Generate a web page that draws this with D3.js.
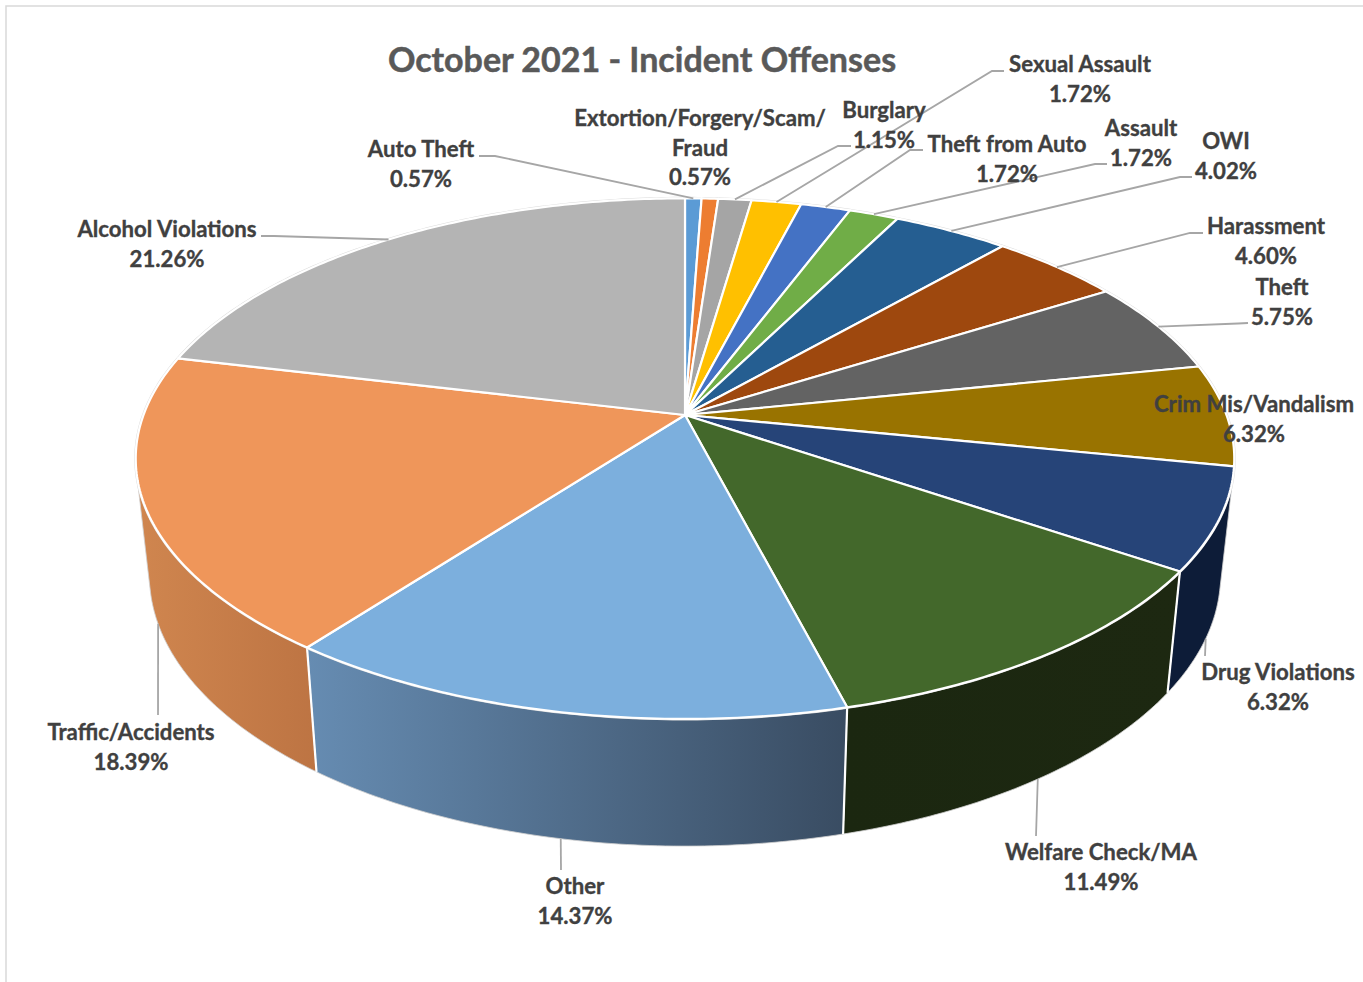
<!DOCTYPE html>
<html>
<head>
<meta charset="utf-8">
<script src="https://d3js.org/d3.v7.min.js"></script>
<style>
html, body { margin: 0; padding: 0; background: #fff; }
svg { display: block; }
text { font-family: Lato, "Open Sans", sans-serif; font-weight: 700; text-anchor: middle; }
</style>
</head>
<body>
<div id="canvas"></div>
<script>
// chart data, clockwise from 12 o'clock
var categories = ["Auto Theft", "Extortion/Forgery/Scam/|Fraud", "Burglary", "Sexual Assault", "Theft from Auto",
	"Assault", "OWI", "Harassment", "Theft", "Crim Mis/Vandalism", "Drug Violations", "Welfare Check/MA",
	"Other", "Traffic/Accidents", "Alcohol Violations"];
var values = [0.57, 0.57, 1.15, 1.72, 1.72, 1.72, 4.02, 4.60, 5.75, 6.32, 6.32, 11.49, 14.37, 18.39, 21.26];

// colours
var topColors = ["#5b9bd5", "#ed7d31", "#a5a5a5", "#ffc000", "#4472c4", "#70ad47", "#255e91", "#9e480e",
	"#636363", "#997300", "#264478", "#43682b", "#7cafdd", "#ef965a", "#b4b4b4"];
var wallLeft = {10: "#0d1c38", 11: "#1b2710", 12: "#668cb2", 13: "#d0864f"};
var wallRight = {10: "#0d1c38", 11: "#1d2811", 12: "#394c62", 13: "#bd7443"};

// label centres (layout only), and leader elbows; a leader ends on the slice's rim
var labelX = [421, 700, 884, 1080, 1007, 1141, 1226, 1266, 1282, 1254, 1278, 1101, 575, 131, 167];
var labelY = [149, 118, 110, 64, 144, 128, 141, 226, 287, 404, 672, 852, 886, 732, 229];
var leaderStart = {
	0: [[479, 156], [495, 156]],
	2: [[851, 146], [838, 146]],
	3: [[1004, 71], [992, 71]],
	4: [[923, 150], [910, 150]],
	5: [[1107, 164], [1095, 164]],
	6: [[1192, 177], [1180, 177]],
	7: [[1203, 233], [1190, 233]],
	8: [[1248, 323], [1238, 323.5]],
	10: [[1205, 656]],
	11: [[1036, 836]],
	12: [[561, 870]],
	13: [[158, 715]],
	14: [[261, 236], [274, 236]]
};
var leaderOnBottom = [10, 11, 12, 13];

var width = 1363, height = 982;
var cx = 685, cy = 415;
// perspective of the pie plane
var k = 0.1676, scaleX = 541.5, scaleY = 253;

function project(a) {
	var u = Math.sin(a), v = -Math.cos(a), w = 1 - k * v;
	return [cx + scaleX * u / w, cy + scaleY * v / w];
}
// same rim point, on the lower face of the disc
function lower(p) {
	return [cx + (p[0] - cx) * 0.975, cy + 115 + (p[1] - cy) * 1.04];
}

var svg = d3.select("#canvas").append("svg").attr("width", width).attr("height", height);
var defs = svg.append("defs");
var line = d3.line();

// chart frame
svg.append("path").attr("d", "M6,982V6H1363").attr("fill", "none").attr("stroke", "#d9d9d9").attr("stroke-width", 1.5);

var arcs = d3.pie().sort(null).value(function(d) { return d; })(values);

function rimPoints(d) {
	var n = Math.max(4, Math.ceil((d.endAngle - d.startAngle) * 80));
	return d3.range(n + 1).map(function(i) {
		return project(d.startAngle + (d.endAngle - d.startAngle) * i / n);
	});
}

// side walls first, the top face covers what is behind it
arcs.forEach(function(d, i) {
	if (!wallLeft[i]) return;
	var rim = rimPoints(d);
	var low = rim.map(lower);
	// hull takes in the silhouette edge at the far left and right
	var all = d3.polygonHull(rim.concat(low));
	var xs = d3.extent(all, function(p) { return p[0]; });
	var grad = defs.append("linearGradient").attr("id", "wall" + i)
		.attr("gradientUnits", "userSpaceOnUse")
		.attr("x1", xs[0]).attr("x2", xs[1]).attr("y1", 0).attr("y2", 0);
	grad.append("stop").attr("offset", 0).attr("stop-color", wallLeft[i]);
	grad.append("stop").attr("offset", 1).attr("stop-color", wallRight[i]);
	svg.append("path").attr("d", line(all) + "Z")
		.attr("fill", "url(#wall" + i + ")")
		.attr("stroke", "#cfcfcf")
		.attr("stroke-width", 0.8);
});
// white edges between walls
arcs.forEach(function(d, i) {
	if (!wallLeft[i] || i == 10) return;
	var p = project(d.startAngle);
	svg.append("path").attr("d", line([p, lower(p)]))
		.attr("stroke", "#fff").attr("stroke-width", 2.2).attr("fill", "none");
});

// hairline round the top face
arcs.forEach(function(d) {
	svg.append("path").attr("d", line(rimPoints(d)))
		.attr("fill", "none").attr("stroke", "#dcdcdc").attr("stroke-width", 3);
});

// top face
arcs.forEach(function(d, i) {
	svg.append("path")
		.attr("d", line([[cx, cy]].concat(rimPoints(d))) + "Z")
		.attr("fill", topColors[i])
		.attr("stroke", "#fff")
		.attr("stroke-width", 2.2)
		.attr("stroke-linejoin", "round");
});

// leader lines
arcs.forEach(function(d, i) {
	if (!leaderStart[i]) return;
	var end = project((d.startAngle + d.endAngle) / 2);
	if (leaderOnBottom.indexOf(i) >= 0) end = lower(end);
	svg.append("path").attr("d", line(leaderStart[i].concat([end])))
		.attr("fill", "none").attr("stroke", "#a6a6a6").attr("stroke-width", 1.8);
});

// title
svg.append("text").attr("x", 642).attr("y", 72).attr("font-size", 34).attr("fill", "#595959")
	.attr("stroke", "#595959").attr("stroke-width", 0.5)
	.text("October 2021 - Incident Offenses");

// data labels
categories.forEach(function(name, i) {
	var rows = name.split("|").concat([values[i].toFixed(2) + "%"]);
	var t = svg.append("text").attr("font-size", 22.2).attr("fill", "#404040")
		.attr("stroke", "#404040").attr("stroke-width", 0.35);
	rows.forEach(function(r, j) {
		t.append("tspan").attr("x", labelX[i]).attr("y", labelY[i] + 8 + j * 29.5).text(r);
	});
});
</script>
</body>
</html>
